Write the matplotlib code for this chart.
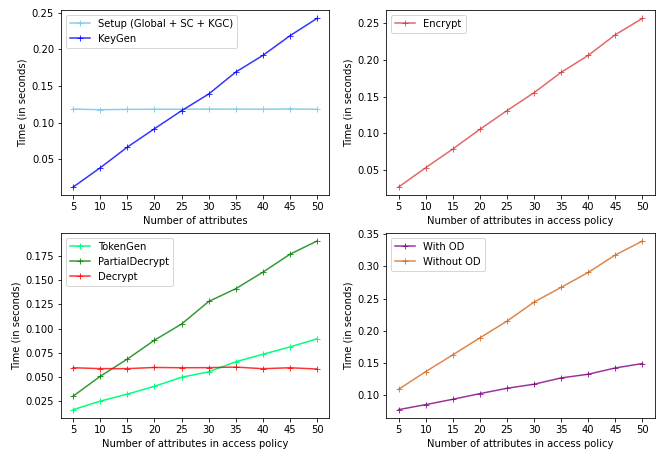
import matplotlib
matplotlib.use("Agg")
import matplotlib.pyplot as plt

# number of attributes on the x axis
attributes = [5, 10, 15, 20, 25, 30, 35, 40, 45, 50]

# timings (seconds)
setup = [0.1186, 0.1177, 0.1182, 0.1184, 0.1184, 0.1186, 0.1185, 0.1184, 0.1188, 0.1183]
keygen = [0.0123, 0.0386, 0.0668, 0.0918, 0.1164, 0.1391, 0.1691, 0.1918, 0.2186, 0.2423]
encrypt = [0.0274, 0.0536, 0.0789, 0.1056, 0.1309, 0.1553, 0.1828, 0.2058, 0.2338, 0.2559]
tokengen = [0.0162, 0.0250, 0.0323, 0.0403, 0.0497, 0.0553, 0.0657, 0.0734, 0.0810, 0.0894]
partial_decrypt = [0.0302, 0.0507, 0.0685, 0.0880, 0.1047, 0.1280, 0.1412, 0.1583, 0.1768, 0.1905]
decrypt = [0.0595, 0.0586, 0.0586, 0.0598, 0.0595, 0.0596, 0.0602, 0.0585, 0.0595, 0.0582]
with_od = [0.0777, 0.0855, 0.0938, 0.1026, 0.1109, 0.1172, 0.1270, 0.1327, 0.1425, 0.1493]
without_od = [0.1093, 0.1368, 0.1628, 0.1892, 0.2151, 0.2448, 0.2676, 0.2909, 0.3179, 0.3396]

fig, axes = plt.subplots(2, 2, figsize=(656 / 72, 451 / 72), dpi=72)
plt.subplots_adjust(left=0.093, right=0.998, top=0.978, bottom=0.073, wspace=0.213, hspace=0.2)

ax = axes[0, 0]
ax.plot(attributes, setup, marker='+', color='skyblue', label='Setup (Global + SC + KGC)')
ax.plot(attributes, keygen, marker='+', color='blue', alpha=0.8, label='KeyGen')
ax.set_xlabel('Number of attributes')

ax = axes[0, 1]
ax.plot(attributes, encrypt, marker='+', color='tab:red', alpha=0.7, label='Encrypt')
ax.set_xlabel('Number of attributes in access policy')

ax = axes[1, 0]
ax.plot(attributes, tokengen, marker='+', color='springgreen', label='TokenGen')
ax.plot(attributes, partial_decrypt, marker='+', color='green', alpha=0.8, label='PartialDecrypt')
ax.plot(attributes, decrypt, marker='+', color='red', alpha=0.8, label='Decrypt')
ax.set_xlabel('Number of attributes in access policy')

ax = axes[1, 1]
ax.plot(attributes, with_od, marker='+', color='purple', alpha=0.8, label='With OD')
ax.plot(attributes, without_od, marker='+', color='chocolate', alpha=0.8, label='Without OD')
ax.set_xlabel('Number of attributes in access policy')

for ax in axes.flat:
    ax.set_xticks(attributes)
    ax.set_ylabel('Time (in seconds)')
    ax.legend(loc='upper left')

plt.savefig('out.png', dpi=72)
